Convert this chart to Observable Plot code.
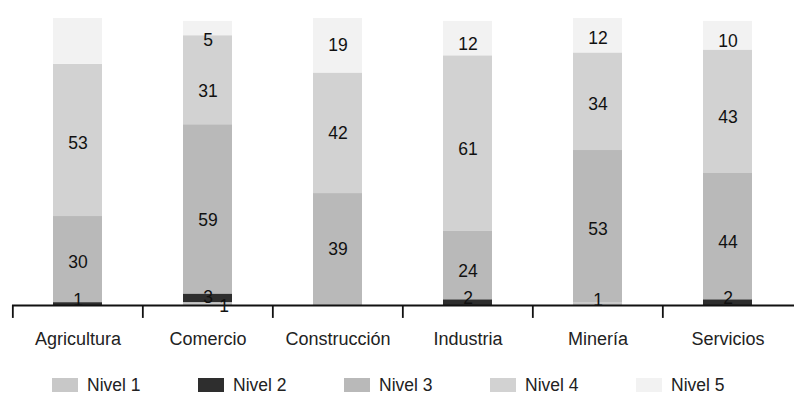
<!DOCTYPE html>
<html>
<head>
<meta charset="utf-8">
<script src="https://cdn.jsdelivr.net/npm/d3@7"></script>
<script src="https://cdn.jsdelivr.net/npm/@observablehq/plot@0.6"></script>
<style>
  body { margin: 0; background: #fff; font-family: "Liberation Sans", Arial, sans-serif; }
  #legend { display: flex; margin: 20px 0 0 52px; height: 20px; align-items: center; }
  .item { display: flex; align-items: center; width: 146px; font-size: 17.5px; color: #222; }
  .sw { width: 26px; height: 14px; margin-right: 9px; }
</style>
</head>
<body>
<div id="chart"></div>
<div id="legend"></div>
<script>
const categories = ["Agricultura", "Comercio", "Construcción", "Industria", "Minería", "Servicios"];
const levels = ["Nivel 1", "Nivel 2", "Nivel 3", "Nivel 4", "Nivel 5"];
const nivel1 = [0, 1, 0, 0, 1, 0];
const nivel2 = [1, 3, 0, 2, 0, 2];
const nivel3 = [30, 59, 39, 24, 53, 44];
const nivel4 = [53, 31, 42, 61, 34, 43];
const nivel5 = [16, 5, 19, 12, 12, 10];
const hiddenLabels = [["Agricultura", "Nivel 5"]];
const shiftedLabels = [["Comercio", "Nivel 1"]];
const colors = ["#c8c8c8", "#2e2e2e", "#b9b9b9", "#d2d2d2", "#f2f2f2"];

const series = [nivel1, nivel2, nivel3, nivel4, nivel5];
const data = [];
categories.forEach((c, i) => {
  levels.forEach((l, j) => {
    data.push({category: c, level: l, value: series[j][i]});
  });
});
const isIn = (list, d) => list.some(([c, l]) => c === d.category && l === d.level);

const W = 794, ML = 12, MR = 0;
const step = (W - ML - MR) / categories.length;

const stackOpts = {x: "category", y: "value", z: "level", order: levels};
const labelStyle = {text: d => d.value, fontSize: 17.5, fill: "#111"};

const chart = Plot.plot({
  width: W,
  height: 355,
  marginTop: 18,
  marginBottom: 50,
  marginLeft: ML,
  marginRight: MR,
  style: {fontFamily: "'Liberation Sans', Arial, sans-serif", background: "#fff"},
  x: {domain: categories, paddingInner: 0.62, paddingOuter: 0.31},
  y: {domain: [0, 100], axis: null},
  color: {domain: levels, range: colors},
  marks: [
    Plot.barY(data, Plot.stackY({...stackOpts, fill: "level"})),
    // regular labels
    Plot.text(data, Plot.stackY({
      ...stackOpts, ...labelStyle,
      filter: d => d.value > 3 && !isIn(hiddenLabels, d)
    })),
    // small labels at the bottom, nudged up
    Plot.text(data, Plot.stackY({
      ...stackOpts, ...labelStyle,
      filter: d => d.value > 0 && d.value <= 3 && !isIn(hiddenLabels, d) && !isIn(shiftedLabels, d),
      dy: -4
    })),
    // overlapping label moved aside
    Plot.text(data, Plot.stackY({
      ...stackOpts, ...labelStyle,
      filter: d => isIn(shiftedLabels, d),
      dx: 16, dy: 2
    })),
    Plot.ruleY([0], {stroke: "#111", strokeWidth: 2}),
    Plot.ruleX(categories, {x: d => d, y1: 0, y2: -4.5, dx: -step / 2, stroke: "#111", strokeWidth: 1.8}),
    Plot.axisX({tickSize: 0, tickPadding: 27, fontSize: 18, fill: "#222", label: null})
  ]
});
document.getElementById("chart").appendChild(chart);

const legend = document.getElementById("legend");
levels.forEach((l, i) => {
  const item = document.createElement("div");
  item.className = "item";
  const sw = document.createElement("div");
  sw.className = "sw";
  sw.style.background = colors[i];
  const t = document.createElement("span");
  t.textContent = l;
  item.appendChild(sw);
  item.appendChild(t);
  legend.appendChild(item);
});
</script>
</body>
</html>
